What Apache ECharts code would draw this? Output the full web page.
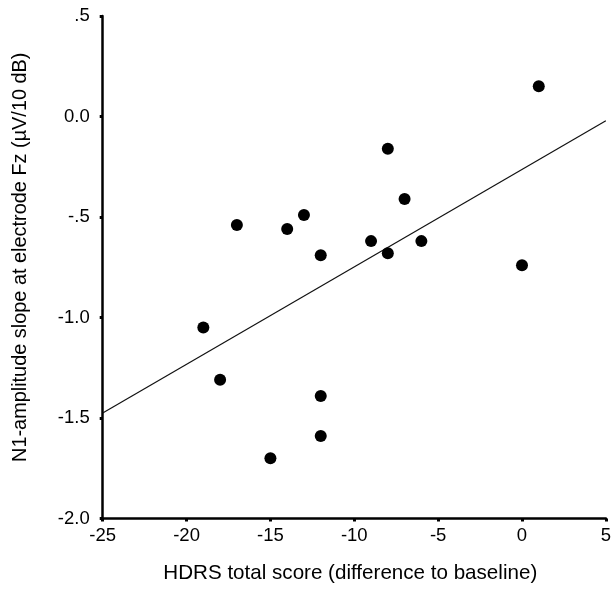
<!DOCTYPE html>
<html>
<head>
<meta charset="utf-8">
<script src="https://cdn.jsdelivr.net/npm/echarts@6/dist/echarts.min.js"></script>
<style>html,body{margin:0;padding:0;background:#fff}#c{width:614px;height:589px}</style>
</head>
<body>
<div id="c"></div>
<script>
const hdrsChange = [-19, -18, -17, -15, -14, -13, -12, -12, -12, -9, -8, -8, -7, -6, 0, 1];
const n1Slope = [-1.05, -1.31, -0.54, -1.70, -0.56, -0.49, -0.69, -1.39, -1.59, -0.62, -0.16, -0.68, -0.41, -0.62, -0.74, 0.15];
const xTicks = [-25, -20, -15, -10, -5, 0, 5];
const yTickLabels = {'0.5': '.5', '0': '0.0', '-0.5': '-.5', '-1': '-1.0', '-1.5': '-1.5', '-2': '-2.0'};

const pts = hdrsChange.map((x, i) => [x, n1Slope[i]]);
const n = pts.length;
const mx = hdrsChange.reduce((a, b) => a + b, 0) / n;
const my = n1Slope.reduce((a, b) => a + b, 0) / n;
let sxy = 0, sxx = 0;
for (let i = 0; i < n; i++) { sxy += (hdrsChange[i] - mx) * (n1Slope[i] - my); sxx += (hdrsChange[i] - mx) ** 2; }
const b = sxy / sxx, a = my - b * mx;
const fit = [[xTicks[0], a + b * xTicks[0]], [xTicks[xTicks.length - 1], a + b * xTicks[xTicks.length - 1]]];

const chart = echarts.init(document.getElementById('c'), null, {renderer: 'canvas'});
const font = 'Liberation Sans, Arial, sans-serif';
chart.setOption({
  animation: false,
  backgroundColor: '#fff',
  grid: {left: 102.7, right: 5, top: 16, bottom: 70.5, containLabel: false},
  xAxis: {
    type: 'value', min: -25, max: 5, interval: 5,
    name: 'HDRS total score (difference to baseline)',
    nameLocation: 'middle', nameGap: 44,
    nameTextStyle: {fontFamily: font, fontSize: 20.6, color: '#000', padding: [0, 8, 0, 0]},
    axisLine: {show: true, onZero: false, lineStyle: {color: '#000', width: 2.5}},
    axisTick: {show: true, length: 3, lineStyle: {color: '#000', width: 3}},
    axisLabel: {fontFamily: font, fontSize: 18.5, color: '#000', margin: 8},
    splitLine: {show: false}
  },
  yAxis: {
    type: 'value', min: -2, max: 0.5, interval: 0.5,
    name: 'N1-amplitude slope at electrode Fz (µV/10 dB)',
    nameLocation: 'middle', nameGap: 72, nameRotate: 90,
    nameTextStyle: {fontFamily: font, fontSize: 19.9, color: '#000', padding: [0, 0, 0, 20]},
    axisLine: {show: true, onZero: false, lineStyle: {color: '#000', width: 2.5}},
    axisTick: {show: true, length: 3, lineStyle: {color: '#000', width: 3}},
    axisLabel: {fontFamily: font, fontSize: 18.5, color: '#000', margin: 13, padding: [0, 0, 3, 0],
      formatter: v => yTickLabels[String(Math.round(v * 10) / 10)] ?? String(v)},
    splitLine: {show: false}
  },
  series: [
    {type: 'line', data: fit, symbol: 'none', lineStyle: {color: '#111', width: 1.2}, silent: true, z: 1},
    {type: 'scatter', data: pts, symbol: 'circle', symbolSize: 12, itemStyle: {color: '#000', opacity: 1}, z: 2}
  ]
});
</script>
</body>
</html>
